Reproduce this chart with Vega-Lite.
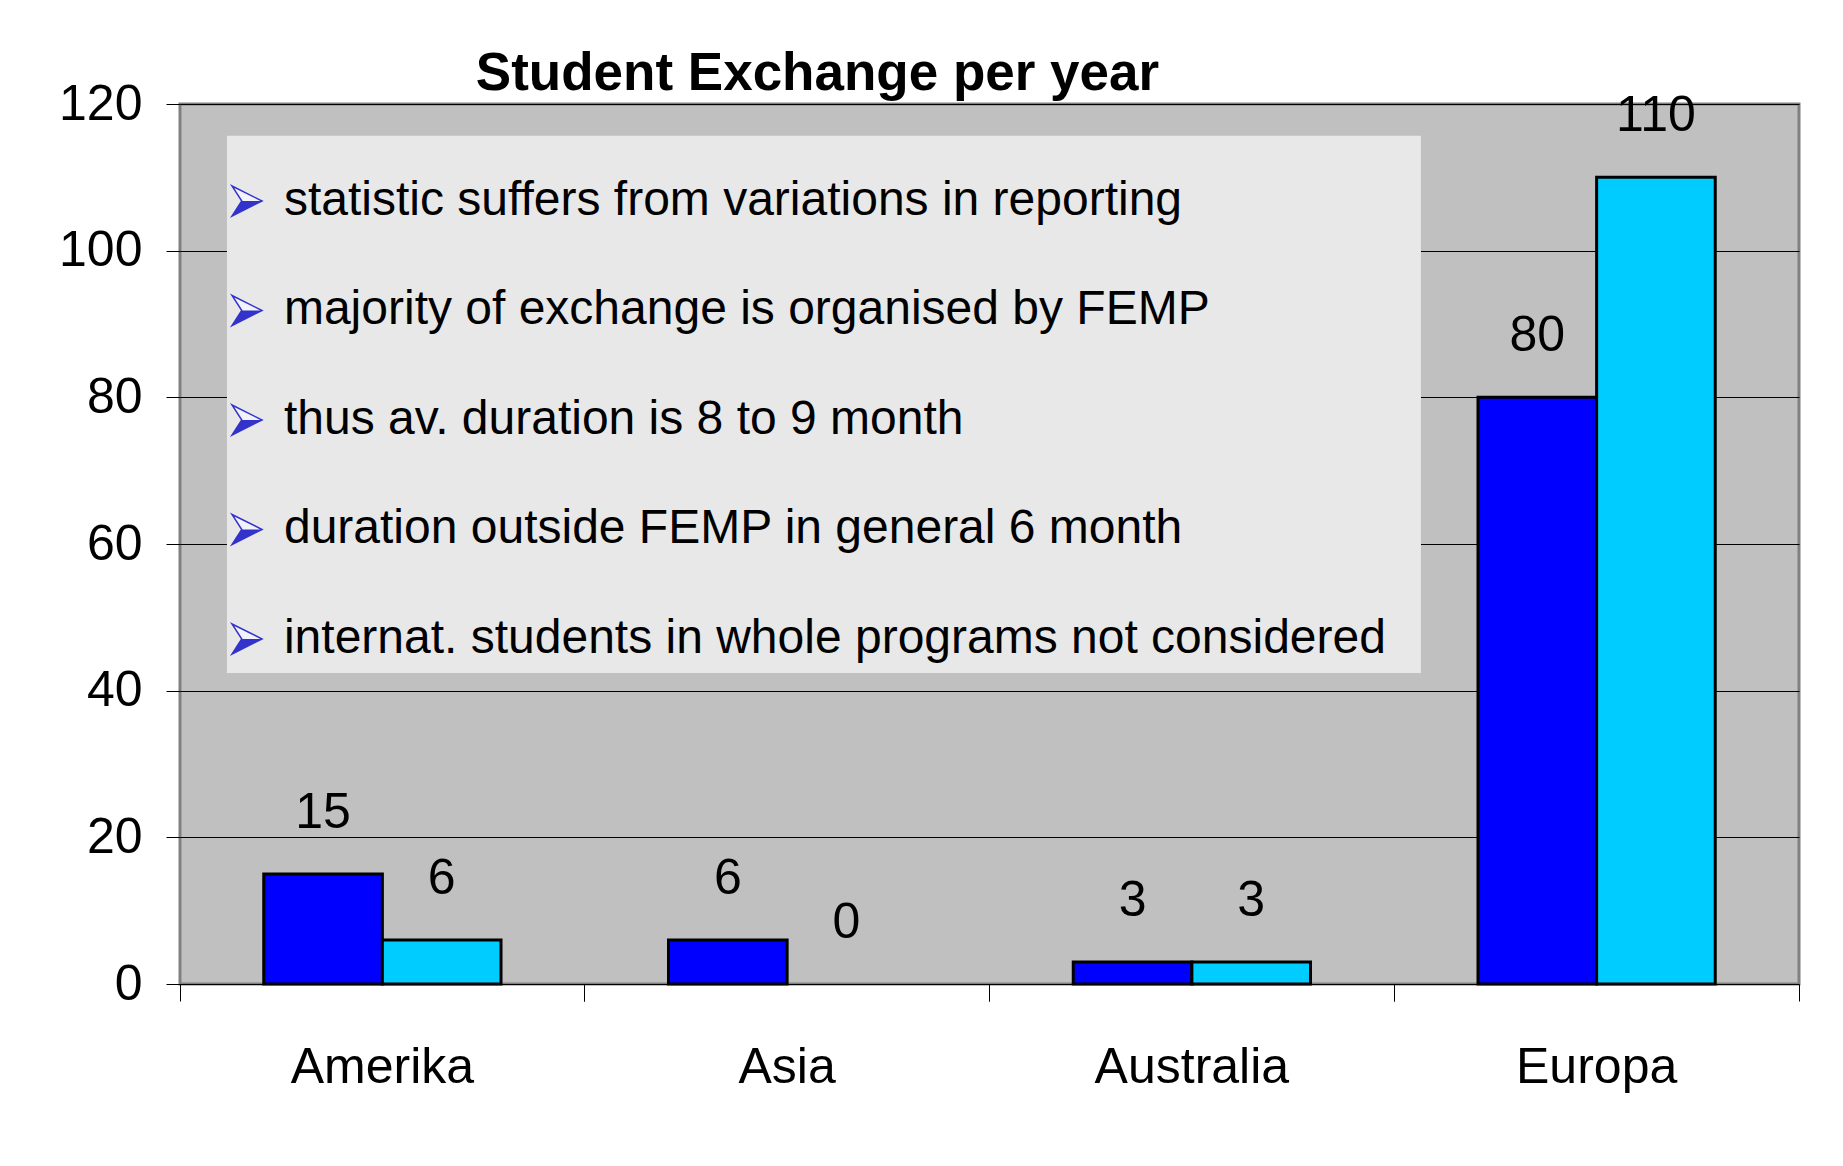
{
  "$schema": "https://vega.github.io/schema/vega-lite/v6.json",
  "background": "white",
  "padding": {"left": 58, "top": 48, "right": 40, "bottom": 40},
  "width": 1619,
  "height": 880,
  "title": {"text": "Student Exchange per year", "font": "Liberation Sans", "fontSize": 53, "fontWeight": "bold", "color": "black", "anchor": "middle", "frame": "group", "dx": -172, "offset": -22},
  "config": {"view": {"fill": "#c0c0c0", "stroke": "#808080", "strokeWidth": 3}, "font": "Liberation Sans"},
  "resolve": {"scale": {"x": "independent", "y": "independent"}},
  "layer": [
    {
      "data": {"values": [
        {"region": "Amerika", "series": "Series 1", "v": 15},
        {"region": "Amerika", "series": "Series 2", "v": 6},
        {"region": "Asia", "series": "Series 1", "v": 6},
        {"region": "Asia", "series": "Series 2", "v": 0},
        {"region": "Australia", "series": "Series 1", "v": 3},
        {"region": "Australia", "series": "Series 2", "v": 3},
        {"region": "Europa", "series": "Series 1", "v": 80},
        {"region": "Europa", "series": "Series 2", "v": 110}
      ]},
      "resolve": {"axis": {"x": "independent"}},
      "encoding": {
        "xOffset": {"field": "series", "type": "nominal", "sort": ["Series 1", "Series 2"], "scale": {"paddingInner": 0, "paddingOuter": 0.706}},
        "y": {"field": "v", "type": "quantitative", "scale": {"domain": [0, 120], "nice": false},
              "axis": {"title": null, "values": [0, 20, 40, 60, 80, 100, 120], "domain": false, "grid": true, "gridColor": "black", "gridWidth": 1, "gridOpacity": 1, "tickColor": "black", "tickSize": 14, "tickWidth": 1, "labelPadding": 24, "labelFont": "Liberation Sans", "labelFontSize": 50, "labelColor": "black"}}
      },
      "layer": [
        {
          "transform": [{"filter": "datum.v > 0"}],
          "mark": {"type": "bar", "stroke": "black", "strokeWidth": 3},
          "encoding": {
            "x": {"field": "region", "type": "nominal", "sort": ["Amerika", "Asia", "Australia", "Europa"], "scale": {"paddingInner": 0, "paddingOuter": 0},
                  "axis": {"title": null, "orient": "bottom", "bandPosition": 1, "ticks": true, "tickSize": 17, "tickColor": "black", "tickWidth": 1, "domain": false, "grid": false, "labelAngle": 0, "labelPadding": 41, "labelLimit": 0, "labelFont": "Liberation Sans", "labelFontSize": 50, "labelColor": "black", "labelBaseline": "top"}},
            "color": {"field": "series", "type": "nominal", "scale": {"domain": ["Series 1", "Series 2"], "range": ["#0000ff", "#00ccff"]}, "legend": null}
          }
        },
        {
          "mark": {"type": "text", "baseline": "alphabetic", "align": "center", "dy": -46, "font": "Liberation Sans", "fontSize": 50, "color": "black"},
          "encoding": {
            "x": {"field": "region", "type": "nominal", "sort": ["Amerika", "Asia", "Australia", "Europa"], "scale": {"paddingInner": 0, "paddingOuter": 0},
                  "axis": {"title": null, "orient": "bottom", "bandPosition": 0, "labels": false, "ticks": true, "tickSize": 17, "tickColor": "black", "tickWidth": 1, "domain": false, "grid": false}},
            "text": {"field": "v", "type": "quantitative"}
          }
        }
      ]
    },
    {
      "data": {"values": [
        {"n": 1, "line": "statistic suffers from variations in reporting"},
        {"n": 2, "line": "majority of exchange is organised by FEMP"},
        {"n": 3, "line": "thus av. duration is 8 to 9 month"},
        {"n": 4, "line": "duration outside FEMP in general 6 month"},
        {"n": 5, "line": "internat. students in whole programs not considered"}
      ]},
      "layer": [
        {
          "data": {"values": [{"box": "notes"}]},
          "mark": {"type": "rect", "fill": "#e8e8e8"},
          "encoding": {
            "x": {"datum": 0.029, "type": "quantitative", "scale": {"domain": [0, 1]}, "axis": null},
            "x2": {"datum": 0.7665},
            "y": {"datum": 0.405, "type": "quantitative", "scale": {"domain": [0.1143, 8.151], "reverse": true}, "axis": null},
            "y2": {"datum": 5.311}
          }
        },
        {
          "mark": {"type": "point", "shape": "M-1,-1L1,0L-1,1L-0.35,0Z", "size": 900, "filled": true, "fill": "#f2f2fa", "stroke": "#3333cc", "strokeWidth": 1.5, "opacity": 1},
          "encoding": {
            "x": {"datum": 0.0414, "type": "quantitative", "scale": {"domain": [0, 1]}, "axis": null},
            "y": {"field": "n", "type": "quantitative", "scale": {"domain": [0.1143, 8.151], "reverse": true}, "axis": null}
          }
        },
        {
          "mark": {"type": "point", "shape": "M-0.35,0L1,0L-1,1Z", "size": 900, "filled": true, "fill": "#3333cc", "strokeWidth": 0, "opacity": 1},
          "encoding": {
            "x": {"datum": 0.0414, "type": "quantitative", "scale": {"domain": [0, 1]}, "axis": null},
            "y": {"field": "n", "type": "quantitative", "scale": {"domain": [0.1143, 8.151], "reverse": true}, "axis": null}
          }
        },
        {
          "mark": {"type": "text", "align": "left", "baseline": "middle", "font": "Liberation Sans", "fontSize": 48, "color": "black"},
          "encoding": {
            "x": {"datum": 0.0642, "type": "quantitative", "scale": {"domain": [0, 1]}, "axis": null},
            "y": {"field": "n", "type": "quantitative", "scale": {"domain": [0.1143, 8.151], "reverse": true}, "axis": null},
            "text": {"field": "line", "type": "nominal"}
          }
        }
      ]
    }
  ]
}
